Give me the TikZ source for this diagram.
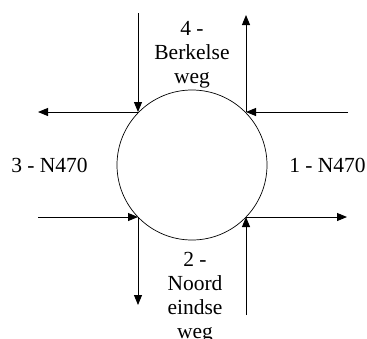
\documentclass[tikz,border=0pt]{standalone}
\usepackage{fontspec}
\setmainfont{Liberation Serif}
\usetikzlibrary{arrows.meta}
\begin{document}
\begin{tikzpicture}[x=1pt,y=-1pt,
  flow/.style={line width=0.9pt,-{Triangle[length=10pt,width=8pt]}},
  lbl/.style={font=\fontsize{21.5}{24}\selectfont,align=center,inner sep=0pt}]
\useasboundingbox (0,0) rectangle (367,338);
\clip (0,0) rectangle (367,338);
\node[draw,circle,line width=0.7pt,minimum size=150pt,inner sep=0pt] (c) at (192,165) {};
% coordinates
\coordinate (tlv) at (138,13);
\coordinate (tl) at (138,112);
\coordinate (tlh) at (38,112);
\coordinate (trv) at (246,15);
\coordinate (tr) at (246,112);
\coordinate (trh) at (348,112);
\coordinate (blh) at (38,217);
\coordinate (bl) at (138,217);
\coordinate (blv) at (138,305);
\coordinate (brv) at (246,315);
\coordinate (br) at (246,217);
\coordinate (brh) at (347,217);
% arrows
\draw[flow] (tlv) -- (tl);
\draw[flow] (tl) -- (tlh);
\draw[flow] (tr) -- (trv);
\draw[flow] (trh) -- (tr);
\draw[flow] (blh) -- (bl);
\draw[flow] (bl) -- (blv);
\draw[flow] (brv) -- (br);
\draw[flow] (br) -- (brh);
% labels
\node[lbl,anchor=north] (n4) at (192,21) {4 -\\Berkelse\\weg};
\node[lbl] (n3) at (49.5,165) {3 - N470};
\node[lbl] (n1) at (327.5,165) {1 - N470};
\node[lbl,anchor=north] (n2) at (195,252) {2 -\\Noord\\eindse\\weg};
\end{tikzpicture}
\end{document}
